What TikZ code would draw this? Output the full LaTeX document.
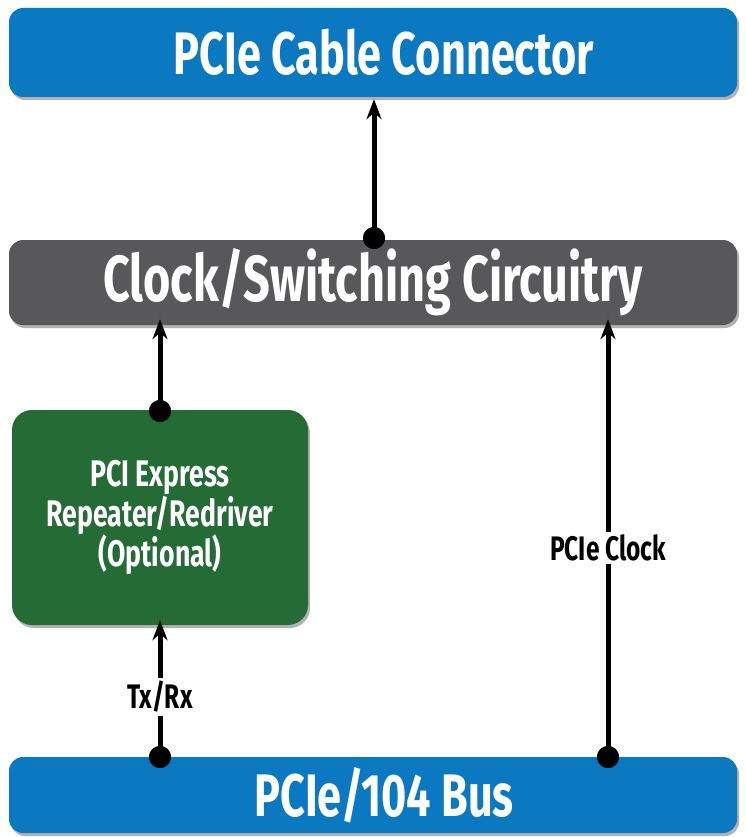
\documentclass[tikz,border=0pt]{standalone}
\usepackage{fontspec}
\newfontfamily\condf{Fira Sans}[FakeStretch=0.72]
\usetikzlibrary{arrows.meta,shadows}
\definecolor{pblue}{HTML}{0B79C1}
\definecolor{pgray}{HTML}{58585A}
\definecolor{pgreen}{HTML}{246B36}
\tikzset{
  bar/.style={rectangle, rounded corners=14pt, inner sep=0pt, minimum width=728pt,
    text=white, font=\condf\bfseries\fontsize{60}{64}\selectfont,
    drop shadow={shadow xshift=2pt, shadow yshift=-3pt, opacity=0.3, fill=black}},
  gbox/.style={rectangle, rounded corners=20pt, fill=pgreen, inner sep=0pt,
    minimum width=296pt, minimum height=215pt, text=white, align=center,
    font=\condf\bfseries\fontsize{37}{40}\selectfont,
    drop shadow={shadow xshift=2pt, shadow yshift=-3pt, opacity=0.3, fill=black}},
  dotn/.style={circle, fill=black, inner sep=0pt, minimum size=22pt},
  conn/.style={line width=5pt, -{Stealth[length=20pt,width=15pt]}},
  lbl/.style={fill=white, inner sep=3pt, text=black, font=\condf\bfseries\fontsize{34}{36}\selectfont}
}
\begin{document}
\begin{tikzpicture}[x=1pt,y=-1pt]
\useasboundingbox (0,0) rectangle (746,837);
\node[bar, fill=pblue, minimum height=89pt] (top) at (373,52.5) {\hspace{22pt}PCIe Cable Connector};
\node[bar, fill=pgray, minimum height=85pt, font=\condf\bfseries\fontsize{65}{68}\selectfont] (mid) at (373,282.5) {Clock/Switching Circuitry\hspace{6pt}};
\node[gbox] (green) at (160,517.5) {PCI Express\\Repeater/Redriver\\(Optional)};
\node[bar, fill=pblue, minimum height=76pt] (bus) at (373,795) {\hspace{22pt}PCIe/104 Bus};
% dots
\node[dotn] (d1) at (374,238) {};
\node[dotn] (d2) at (160,411) {};
\node[dotn] (d3) at (160,757) {};
\node[dotn] (d4) at (608,757) {};
% connectors
\draw[conn, shorten >=2pt] (d1.center) -- (d1.center |- top.south);
\draw[conn, shorten >=-6pt] (d2.center) -- (d2.center |- mid.south);
\draw[conn, shorten >=-5pt] (d3.center) -- (d3.center |- green.south);
\draw[conn, shorten >=-6pt] (d4.center) -- (d4.center |- mid.south);
% labels on lines
\node[lbl] (tx) at (160,697) {Tx/Rx};
\node[lbl] (clk) at (608,548) {PCIe Clock};
% redraw dots on top
\node[dotn] at (d1) {};
\node[dotn] at (d2) {};
\node[dotn] at (d3) {};
\node[dotn] at (d4) {};
\end{tikzpicture}
\end{document}
